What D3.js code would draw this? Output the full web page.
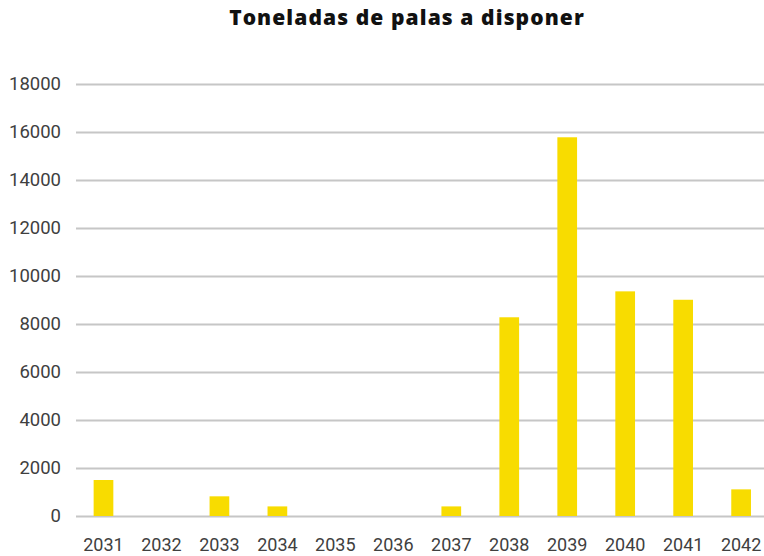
<!DOCTYPE html>
<html><head><meta charset="utf-8">
<script src="https://cdn.jsdelivr.net/npm/d3@7"></script>
<style>html,body{margin:0;padding:0;background:#fff;}svg{display:block;}</style>
</head><body>
<svg id="c" width="764" height="556"></svg>
<script>
const years = ["2031","2032","2033","2034","2035","2036","2037","2038","2039","2040","2041","2042"];
const values = [1500, 0, 820, 400, 0, 0, 400, 8280, 15780, 9360, 9010, 1110];
const yTicks = [0,2000,4000,6000,8000,10000,12000,14000,16000,18000];
const title = "Toneladas de palas a disponer";

const svg = d3.select("#c");
const x = d3.scaleBand().domain(years).range([74.5, 770.1]).paddingInner(0.66).paddingOuter(0.33);
const y = d3.scaleLinear().domain([0, 18000]).range([516, 84]);

svg.append("text").attr("x", 407).attr("y", 25).attr("text-anchor","middle")
  .attr("font-family","'Open Sans', sans-serif").attr("font-weight",800).attr("font-size",21)
  .attr("letter-spacing", 1.1)
  .attr("fill","#111").text(title);

const gy = svg.append("g").attr("transform","translate(76,0)")
  .call(d3.axisLeft(y).tickValues(yTicks).tickFormat(d3.format("d")).tickSize(-700).tickPadding(15));
gy.select(".domain").remove();
gy.selectAll(".tick line").attr("stroke","#c6c6c6").attr("stroke-width",2);
gy.selectAll(".tick text").attr("font-family","Roboto, sans-serif").attr("font-size",18.5).attr("fill","#404040");

svg.append("g").selectAll("rect").data(years).join("rect")
  .attr("x", d => x(d)).attr("width", x.bandwidth())
  .attr("y", (d,i) => y(values[i])).attr("height", (d,i) => y(0) - y(values[i]))
  .attr("fill", "#f8dc00");

const gx = svg.append("g").attr("transform","translate(0,516)")
  .call(d3.axisBottom(x).tickSize(0).tickPadding(0));
gx.select(".domain").remove();
gx.selectAll(".tick text").attr("dy", null).attr("y", 35)
  .attr("font-family","Roboto, sans-serif").attr("font-size",18).attr("fill","#404040");
</script>
</body></html>
